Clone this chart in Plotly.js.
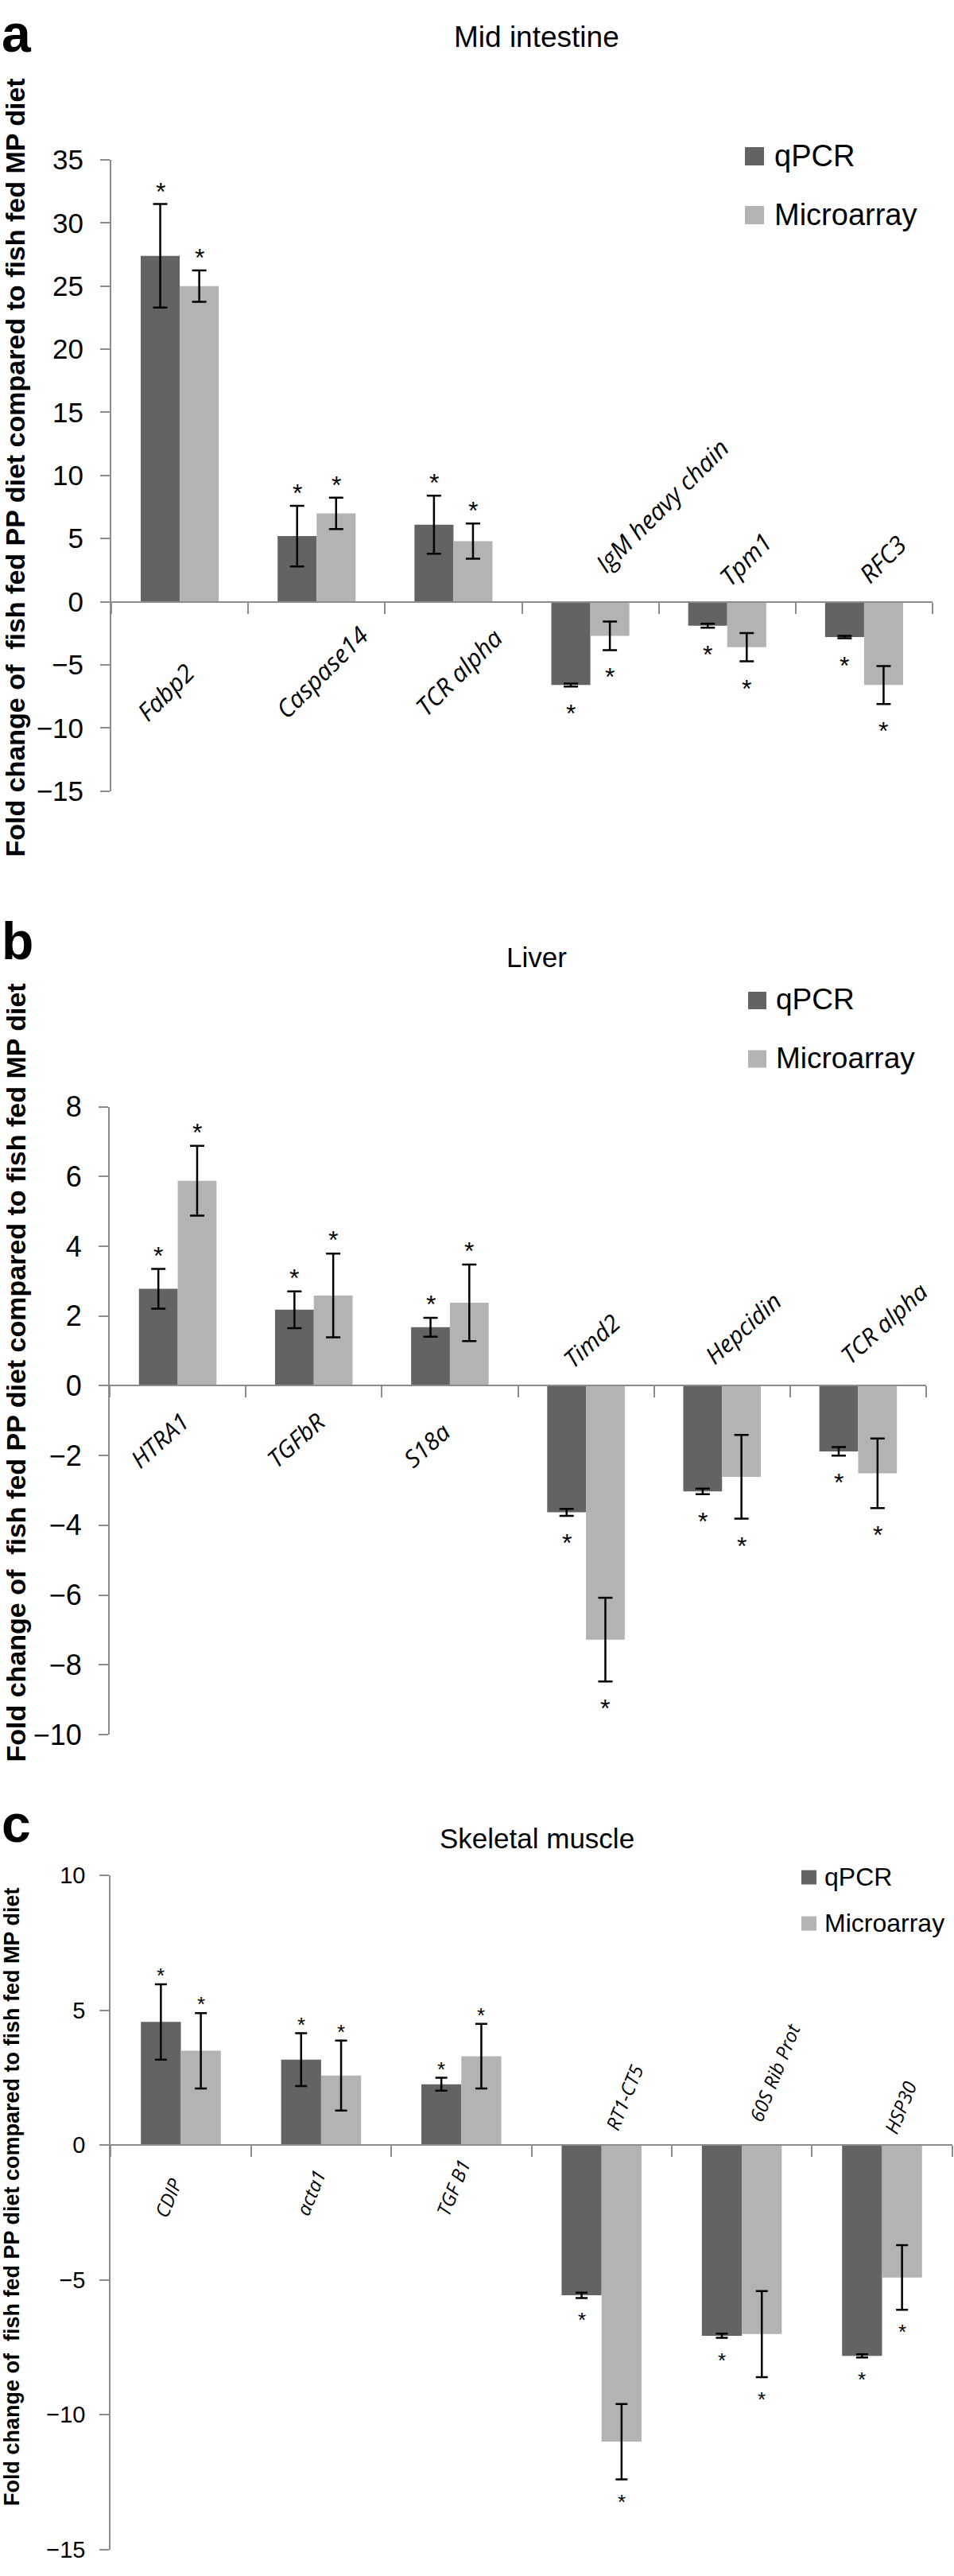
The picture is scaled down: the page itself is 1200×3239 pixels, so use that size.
<!DOCTYPE html>
<html>
<head>
<meta charset="utf-8">
<script src="https://cdn.plot.ly/plotly-3.0.1.min.js"></script>
<style>
  html, body { margin: 0; padding: 0; background: #ffffff; }
  #chart { width: 1200px; height: 3239px; }
</style>
</head>
<body>
<div id="chart"></div>
<script>
// ---------------- DATA ----------------
// Panel a: Mid intestine
const catsA      = ['Fabp2', 'Caspase14', 'TCR alpha', 'IgM heavy chain', 'Tpm1', 'RFC3'];
const qpcrA      = [27.4, 5.2, 6.1, -6.6, -1.9, -2.8];
const qpcrErrA   = [4.1, 2.4, 2.3, 0.12, 0.15, 0.1];
const microA     = [25.0, 7.0, 4.8, -2.7, -3.6, -6.6];
const microErrA  = [1.25, 1.25, 1.4, 1.13, 1.12, 1.5];
const sigQA      = [true, true, true, true, true, true];
const sigMA      = [true, true, true, true, true, true];

// Panel b: Liver
const catsB      = ['HTRA1', 'TGFbR', 'S18a', 'Timd2', 'Hepcidin', 'TCR alpha'];
const qpcrB      = [2.78, 2.18, 1.68, -3.63, -3.03, -1.88];
const qpcrErrB   = [0.57, 0.53, 0.27, 0.1, 0.08, 0.12];
const microB     = [5.88, 2.59, 2.38, -7.28, -2.61, -2.51];
const microErrB  = [1.0, 1.2, 1.1, 1.2, 1.2, 1.0];
const sigQB      = [true, true, true, true, true, true];
const sigMB      = [true, true, true, true, true, true];

// Panel c: Skeletal muscle
const catsC      = ['CDIP', 'acta1', 'TGF B1', 'RT1-CT5', '60S Rib Prot', 'HSP30'];
const qpcrC      = [4.57, 3.17, 2.26, -5.57, -7.07, -7.82];
const qpcrErrC   = [1.4, 0.98, 0.24, 0.1, 0.08, 0.06];
const microC     = [3.50, 2.58, 3.30, -11.0, -7.01, -4.91];
const microErrC  = [1.4, 1.3, 1.2, 1.4, 1.6, 1.2];
const sigQC      = [true, true, true, true, true, true];
const sigMC      = [true, true, true, true, true, true];

const seriesNames = ['qPCR', 'Microarray'];
const panelTitles = ['Mid intestine', 'Liver', 'Skeletal muscle'];
const panelLetters = ['a', 'b', 'c'];
const yTitle = 'Fold change of  fish fed PP diet compared to fish fed MP diet';

// ---------------- STYLE ----------------
const W = 1200, H = 3239;
const FONT = 'Liberation Sans, Arial, Helvetica, sans-serif';
const LABEL_FONT = 'Open Sans, Noto Sans, sans-serif';
const DARK = '#636363';
const LIGHT = '#b3b3b3';
const AXIS = '#8c8c8c';
const BARGAP = 0.43;
const px = v => v / W;
const py = v => 1 - v / H;
const EM = 0.56; // approx. average advance of the italic label font, in em

const panels = [
  { cats: catsA, q: qpcrA, qe: qpcrErrA, m: microA, me: microErrA, sq: sigQA, sm: sigMA,
    x0: 140, x1: 1173, yTop: 201, yBot: 994.7, ymin: -15, ymax: 35, dtick: 5,
    tickSize: 35, standoff: 14, cap: 9, starSize: 32, starUp: 16, starDown: 34,
    labelSize: 31, angle: 45, aboveDX: -15, aboveDY: 16, belowDX: -62, belowDY: 157,
    titleY: 46.5, titleSize: 37, letterY: 42, yTitleY: 588.5, yTitleX: 19, yTitleSize: 34,
    legX: 937, swW: 24, swH: 23, legY: [196.5, 270.5], legTextX: 972, legSize: 38 },
  { cats: catsB, q: qpcrB, qe: qpcrErrB, m: microB, me: microErrB, sq: sigQB, sm: sigMB,
    x0: 138, x1: 1165, yTop: 1391.7, yBot: 2180.9, ymin: -10, ymax: 8, dtick: 2,
    tickSize: 36, standoff: 14, cap: 9, starSize: 32, starUp: 17, starDown: 34,
    labelSize: 30, angle: 42, aboveDX: -36, aboveDY: 15, belowDX: -66, belowDY: 110,
    titleY: 1203, titleSize: 35, letterY: 1183, yTitleY: 1726.5, yTitleX: 19, yTitleSize: 34,
    legX: 941, swW: 23, swH: 22, legY: [1258, 1331.5], legTextX: 974, legSize: 37 },
  { cats: catsC, q: qpcrC, qe: qpcrErrC, m: microC, me: microErrC, sq: sigQC, sm: sigMC,
    x0: 139.3, x1: 1197.7, yTop: 2358.3, yBot: 3205.7, ymin: -15, ymax: 10, dtick: 5,
    tickSize: 29, standoff: 12, cap: 7.5, starSize: 26, starUp: 11, starDown: 28,
    labelSize: 24, angle: 68, aboveDX: -3, aboveDY: 11, belowDX: -39, belowDY: 96,
    titleY: 2311, titleSize: 35, letterY: 2293, yTitleY: 2762.5, yTitleX: 14.5, yTitleSize: 27,
    legX: 1008, swW: 19, swH: 18, legY: [2360.5, 2418.5], legTextX: 1035, legSize: 32 }
];

const traces = [];
const layout = {
  width: W, height: H,
  margin: { l: 0, r: 0, t: 0, b: 0, pad: 0 },
  paper_bgcolor: '#ffffff', plot_bgcolor: 'rgba(0,0,0,0)',
  showlegend: false,
  barmode: 'group', bargap: BARGAP, bargroupgap: 0,
  font: { family: FONT, color: '#000000' },
  annotations: [], shapes: []
};

panels.forEach((p, k) => {
  const s = k === 0 ? '' : String(k + 1);
  const xr = 'x' + s, yr = 'y' + s;
  const yd = [py(p.yBot), py(p.yTop)];
  const zeroFrac = yd[0] + (0 - p.ymin) / (p.ymax - p.ymin) * (yd[1] - yd[0]);
  const zeroPx = p.yTop + (p.ymax - 0) / (p.ymax - p.ymin) * (p.yBot - p.yTop);

  layout['xaxis' + s] = {
    domain: [px(p.x0), px(p.x1)], anchor: 'free', position: zeroFrac,
    type: 'category', range: [-0.5, p.cats.length - 0.5],
    showline: true, linecolor: AXIS, linewidth: 2,
    ticks: 'outside', tickson: 'boundaries', ticklen: 14, tickwidth: 2, tickcolor: AXIS,
    showticklabels: false, showgrid: false, zeroline: false, fixedrange: true
  };
  layout['yaxis' + s] = {
    domain: yd, anchor: xr, range: [p.ymin, p.ymax], dtick: p.dtick, tick0: 0,
    showline: true, linecolor: AXIS, linewidth: 2,
    ticks: 'outside', ticklen: 12, tickwidth: 2, tickcolor: AXIS,
    ticklabelstandoff: p.standoff,
    tickfont: { family: FONT, size: p.tickSize, color: '#000000' },
    showgrid: false, zeroline: false, fixedrange: true
  };

  const series = [
    { y: p.q, e: p.qe, sig: p.sq, color: DARK, name: seriesNames[0], side: -1 },
    { y: p.m, e: p.me, sig: p.sm, color: LIGHT, name: seriesNames[1], side: 1 }
  ];
  series.forEach(se => {
    traces.push({
      type: 'bar', x: p.cats, y: se.y, name: se.name, xaxis: xr, yaxis: yr,
      marker: { color: se.color, line: { width: 0 } },
      error_y: { type: 'data', array: se.e, visible: true, color: '#000000', thickness: 2.5, width: p.cap },
      hoverinfo: 'x+y'
    });
  });

  // significance stars
  const catW = (p.x1 - p.x0) / p.cats.length;
  const off = catW * (1 - BARGAP) / 4;
  series.forEach(se => {
    se.y.forEach((v, i) => {
      if (!se.sig[i]) return;
      const up = v >= 0;
      layout.annotations.push({
        xref: xr, yref: yr, x: p.cats[i], y: up ? v + se.e[i] : v - se.e[i],
        xshift: se.side * off, yshift: up ? p.starUp : -p.starDown,
        text: '*', showarrow: false, xanchor: 'center', yanchor: 'middle',
        font: { family: FONT, size: p.starSize, color: '#000000' }
      });
    });
  });

  // rotated category labels: centre of the rotated box placed in page pixels
  const th = p.angle * Math.PI / 180;
  p.cats.forEach((c, i) => {
    const neg = p.q[i] < 0;
    const L = c.length * EM * p.labelSize;
    const h = p.labelSize * 1.2;
    const bw = L * Math.cos(th) + h * Math.sin(th);
    const bh = L * Math.sin(th) + h * Math.cos(th);
    const catPx = p.x0 + catW * (i + 0.5);
    const cx = catPx + (neg ? p.aboveDX : p.belowDX) + bw / 2;
    const cy = neg ? (zeroPx - p.aboveDY - bh / 2) : (zeroPx + p.belowDY - bh / 2);
    layout.annotations.push({
      xref: 'paper', yref: 'paper', x: px(cx), y: py(cy),
      text: '<i>' + c + '</i>', showarrow: false,
      textangle: -p.angle, xanchor: 'center', yanchor: 'middle',
      font: { family: LABEL_FONT, size: p.labelSize, color: '#000000' }
    });
  });

  // panel title
  layout.annotations.push({
    xref: 'paper', yref: 'paper', x: px(675), y: py(p.titleY), text: panelTitles[k],
    showarrow: false, xanchor: 'center', yanchor: 'middle',
    font: { family: FONT, size: p.titleSize, color: '#000000' }
  });
  // panel letter
  layout.annotations.push({
    xref: 'paper', yref: 'paper', x: 0, y: py(p.letterY), text: '<b>' + panelLetters[k] + '</b>',
    showarrow: false, xanchor: 'left', yanchor: 'middle',
    font: { family: FONT, size: 66, color: '#000000' }
  });
  // y-axis title
  layout.annotations.push({
    xref: 'paper', yref: 'paper', x: px(p.yTitleX), y: py(p.yTitleY), text: '<b>' + yTitle + '</b>',
    showarrow: false, xanchor: 'center', yanchor: 'middle', textangle: -90,
    font: { family: FONT, size: p.yTitleSize, color: '#000000' }
  });
  // legend
  [DARK, LIGHT].forEach((col, j) => {
    layout.shapes.push({
      type: 'rect', xref: 'paper', yref: 'paper',
      x0: px(p.legX), x1: px(p.legX + p.swW),
      y0: py(p.legY[j] + p.swH / 2), y1: py(p.legY[j] - p.swH / 2),
      fillcolor: col, line: { width: 0 }
    });
    layout.annotations.push({
      xref: 'paper', yref: 'paper', x: px(p.legTextX), y: py(p.legY[j] - 1), text: seriesNames[j],
      showarrow: false, xanchor: 'left', yanchor: 'middle',
      font: { family: FONT, size: p.legSize, color: '#000000' }
    });
  });
});

Plotly.newPlot('chart', traces, layout, { staticPlot: true, displayModeBar: false });
</script>
</body>
</html>
